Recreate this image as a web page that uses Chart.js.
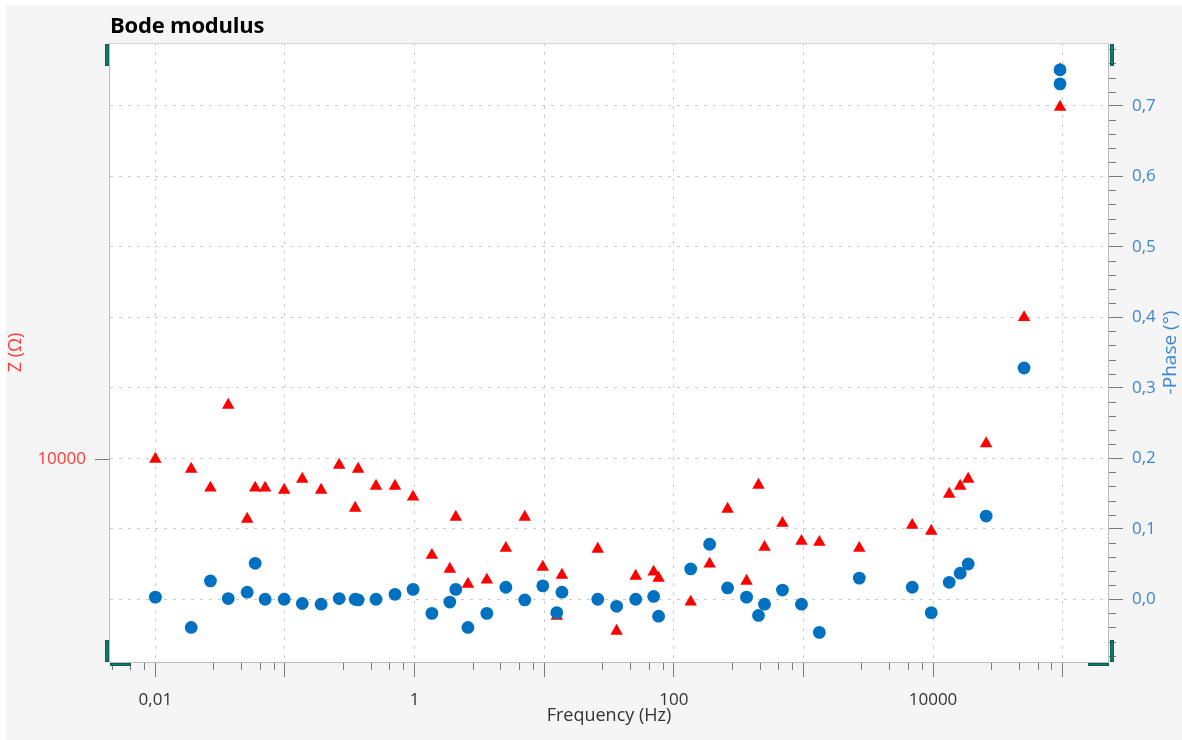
<!DOCTYPE html>
<html>
<head>
<meta charset="utf-8">
<script src="https://cdn.jsdelivr.net/npm/chart.js@4.4.1/dist/chart.umd.min.js"></script>
<style>
  html, body { margin: 0; padding: 0; width: 1182px; height: 740px; overflow: hidden; background: #ffffff; }
  #panel { position: absolute; left: 6px; top: 5px; width: 1176px; height: 735px; background: #f5f5f5; }
  #chart { position: absolute; left: 0; top: 0; }
  #title { position: absolute; left: 110px; top: 9px; font: bold 22px "Open Sans", "Noto Sans", sans-serif; color: #000; letter-spacing: -0.2px; }
</style>
</head>
<body>
<div id="panel"></div>
<canvas id="chart" width="1182" height="740"></canvas>
<div id="title">Bode modulus</div>
<script>
// Frequency sweep (Hz), impedance modulus (Ω) and negative phase (°)
const freqHz = [0.01, 0.0189, 0.0266, 0.0365, 0.0511, 0.0589, 0.0703, 0.0986, 0.136, 0.190,
  0.262, 0.348, 0.367, 0.504, 0.706, 0.973, 1.36, 1.87, 2.08, 2.58,
  3.61, 5.06, 7.08, 9.75, 12.5, 13.7, 25.9, 36.2, 50.8, 69.9,
  76.3, 135, 189, 260, 364, 450, 501, 689, 966, 1327,
  2698, 6913, 9690, 13330, 16200, 18680, 25700, 50400, 95500, 95500];

const zOhm = [10000, 9776, 9364, 11303, 8727, 9364, 9364, 9321, 9556, 9321,
  9865, 8948, 9776, 9406, 9406, 9175, 8042, 7791, 8767, 7531,
  7600, 8170, 8767, 7827, 7002, 7686, 8153, 6769, 7669, 7739,
  7634, 7231, 7881, 8928, 7582, 9427, 8189, 8647, 8301, 8283,
  8170, 8608, 8493, 9237, 9406, 9556, 10358, 13787, 24200, 22225];

const negPhaseDeg = [0.003, -0.040, 0.026, 0.001, 0.010, 0.051, 0.000, 0.000, -0.006, -0.007,
  0.001, 0.000, -0.001, 0.000, 0.007, 0.014, -0.020, -0.004, 0.014, -0.040,
  -0.020, 0.017, -0.001, 0.019, -0.019, 0.010, 0.000, -0.010, 0.000, 0.004,
  -0.024, 0.043, 0.078, 0.016, 0.003, -0.023, -0.007, 0.013, -0.007, -0.047,
  0.030, 0.017, -0.019, 0.024, 0.037, 0.050, 0.118, 0.328, 0.751, 0.731];

// Axis ticks
const freqDecades = [0.01, 0.1, 1, 10, 100, 1000, 10000, 100000];
const freqLabelValues = [0.01, 1, 100, 10000];
const freqLabelTexts = ['0,01', '1', '100', '10000'];
const freqMinorSteps = [2.8, 4.6, 6.4, 8.2];
const zTickValues = [10000];
const zTickTexts = ['10000'];
const phaseTickValues = [0, 0.1, 0.2, 0.3, 0.4, 0.5, 0.6, 0.7];
const phaseTickTexts = ['0,0', '0,1', '0,2', '0,3', '0,4', '0,5', '0,6', '0,7'];
const phaseMinorStep = 0.02;

const FONT = '"Open Sans", "Noto Sans", sans-serif';
const RED = '#ff0000';
const BLUE = '#0070c0';
const GRID = '#cbcbcb';
const TICK = '#7a7a7a';

// White plot area with a thin grey frame
const plotFrame = {
  id: 'plotFrame',
  beforeDraw(chart) {
    const { ctx, chartArea: a } = chart;
    ctx.save();
    ctx.fillStyle = '#ffffff';
    ctx.fillRect(a.left, a.top, a.right - a.left, a.bottom - a.top);
    ctx.restore();
  },
  afterDatasetsDraw(chart) {
    const { ctx, chartArea: a } = chart;
    ctx.save();
    ctx.strokeStyle = '#d4d4d4';
    ctx.lineWidth = 1;
    ctx.beginPath();
    ctx.moveTo(a.left, a.top + 0.5); ctx.lineTo(a.right, a.top + 0.5);
    ctx.stroke();
    ctx.strokeStyle = '#bcbcbc';
    ctx.beginPath();
    ctx.moveTo(a.left - 0.5, a.top); ctx.lineTo(a.left - 0.5, a.bottom + 0.5);
    ctx.lineTo(a.right + 0.5, a.bottom + 0.5); ctx.lineTo(a.right + 0.5, a.top);
    ctx.stroke();
    ctx.restore();
  }
};

// Short minor ticks on the frequency and phase axes
const minorTicks = {
  id: 'minorTicks',
  afterDraw(chart) {
    const { ctx, chartArea: a, scales } = chart;
    ctx.save();
    ctx.strokeStyle = TICK;
    ctx.lineWidth = 1;
    ctx.beginPath();
    const xs = scales.x;
    for (let e = -3; e <= 5; e++) {
      for (const m of freqMinorSteps) {
        const v = m * Math.pow(10, e);
        if (v < xs.min || v > xs.max) continue;
        const px = Math.round(xs.getPixelForValue(v)) + 0.5;
        ctx.moveTo(px, a.bottom + 1); ctx.lineTo(px, a.bottom + 8);
      }
    }
    const ps = scales.phase;
    const first = Math.ceil(ps.min / phaseMinorStep);
    const last = Math.floor(ps.max / phaseMinorStep);
    for (let i = first; i <= last; i++) {
      if (i % 5 === 0) continue;
      const py = Math.round(ps.getPixelForValue(i * phaseMinorStep)) + 0.5;
      ctx.moveTo(a.right + 1, py); ctx.lineTo(a.right + 8, py);
    }
    ctx.stroke();
    ctx.restore();
  }
};

// Corner handles and the rotated right-hand axis title
const decorations = {
  id: 'decorations',
  afterDraw(chart) {
    const { ctx, chartArea: a } = chart;
    ctx.save();
    ctx.fillStyle = '#107a6c';
    ctx.strokeStyle = '#0b4f46';
    ctx.lineWidth = 0.6;
    const bars = [
      [a.left - 5, a.top + 1, 4, 22],
      [a.right + 2, a.top + 1, 4, 22],
      [a.left - 5, a.bottom - 22, 4, 22],
      [a.left, a.bottom + 1, 21, 3],
      [a.right + 2, a.bottom - 22, 4, 22],
      [a.right - 20, a.bottom + 1, 21, 3]
    ];
    for (const [x, y, w, h] of bars) {
      ctx.fillRect(x, y, w, h);
      ctx.strokeRect(x + 0.3, y + 0.3, w - 0.6, h - 0.6);
    }
    ctx.translate(1171, (a.top + a.bottom) / 2);
    ctx.rotate(-Math.PI / 2);
    ctx.fillStyle = '#3a86d4';
    ctx.font = '19px ' + FONT;
    ctx.textAlign = 'center';
    ctx.textBaseline = 'middle';
    ctx.fillText('-Phase (°)', 0, 0);
    ctx.restore();
  }
};

const zPoints = freqHz.map((f, i) => ({ x: f, y: zOhm[i] }));
const phasePoints = freqHz.map((f, i) => ({ x: f, y: negPhaseDeg[i] }));

new Chart(document.getElementById('chart'), {
  type: 'scatter',
  data: {
    datasets: [
      {
        label: '-Phase (°)',
        data: phasePoints,
        yAxisID: 'phase',
        pointStyle: 'circle',
        pointRadius: 6.4,
        backgroundColor: BLUE,
        borderColor: BLUE,
        borderWidth: 0,
        order: 0
      },
      {
        label: 'Z (Ω)',
        data: zPoints,
        yAxisID: 'z',
        pointStyle: 'triangle',
        pointRadius: 7.2,
        backgroundColor: RED,
        borderColor: RED,
        borderWidth: 0,
        order: 1
      }
    ]
  },
  options: {
    responsive: false,
    devicePixelRatio: 1,
    animation: false,
    layout: { padding: { top: 43, left: 0, right: 0, bottom: 0 } },
    plugins: {
      legend: { display: false },
      tooltip: { enabled: false },
      title: { display: false }
    },
    scales: {
      x: {
        type: 'logarithmic',
        position: 'bottom',
        min: Math.pow(10, -2.35),
        max: Math.pow(10, 5.35),
        afterBuildTicks: s => { s.ticks = freqDecades.map(v => ({ value: v })); },
        afterFit: s => { s.height = 78; },
        ticks: {
          autoSkip: false,
          maxRotation: 0,
          padding: 13,
          color: '#333333',
          font: { family: FONT, size: 17 },
          callback: v => {
            const i = freqLabelValues.findIndex(t => Math.abs(Math.log10(t) - Math.log10(v)) < 1e-6);
            return i >= 0 ? freqLabelTexts[i] : '';
          }
        },
        grid: { color: GRID, lineWidth: 1, tickLength: 15, tickColor: TICK, tickBorderDash: [] },
        border: { display: false, dash: [3, 6] },
        title: {
          display: true,
          text: 'Frequency (Hz)',
          color: '#333333',
          font: { family: FONT, size: 18 },
          padding: { top: 0, bottom: 13 }
        }
      },
      z: {
        type: 'logarithmic',
        position: 'left',
        min: 6310,
        max: 25700,
        afterBuildTicks: s => { s.ticks = zTickValues.map(v => ({ value: v })); },
        afterFit: s => { s.width = 110; },
        ticks: {
          padding: 9,
          color: '#ff3b3b',
          font: { family: FONT, size: 17 },
          callback: v => {
            const i = zTickValues.indexOf(v);
            return i >= 0 ? zTickTexts[i] : '';
          }
        },
        grid: { drawOnChartArea: false, tickLength: 15, tickColor: TICK },
        border: { display: false },
        title: {
          display: true,
          text: 'Z (Ω)',
          color: '#ff3b3b',
          font: { family: FONT, size: 18 },
          padding: { top: 5, bottom: 0 }
        }
      },
      phase: {
        type: 'linear',
        position: 'right',
        min: -0.089,
        max: 0.789,
        afterBuildTicks: s => { s.ticks = phaseTickValues.map(v => ({ value: v })); },
        afterFit: s => { s.width = 74; },
        ticks: {
          padding: 9,
          color: '#3a86d4',
          font: { family: FONT, size: 17 },
          callback: v => {
            const i = phaseTickValues.findIndex(t => Math.abs(t - v) < 1e-9);
            return i >= 0 ? phaseTickTexts[i] : '';
          }
        },
        grid: { color: GRID, lineWidth: 1, tickLength: 15, tickColor: TICK, tickBorderDash: [] },
        border: { display: false, dash: [3, 6] },
        title: { display: false }
      }
    }
  },
  plugins: [plotFrame, minorTicks, decorations]
});
</script>
</body>
</html>
